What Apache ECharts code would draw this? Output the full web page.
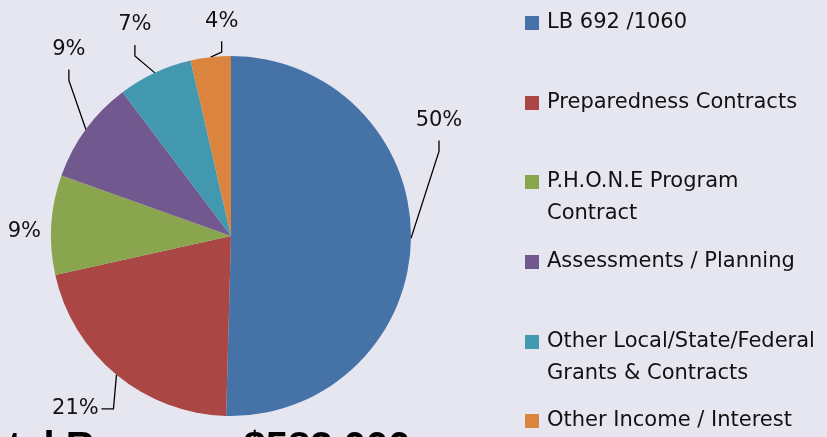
<!DOCTYPE html>
<html><head><meta charset="utf-8">
<script src="https://cdn.jsdelivr.net/npm/echarts@6/dist/echarts.min.js"></script>
<style>html,body{margin:0;padding:0;background:#e6e6f0;}#c{width:827px;height:437px;}</style>
</head><body><div id="c"></div>
<script>
const CATEGORIES = ['LB 692 /1060', 'Preparedness Contracts', 'P.H.O.N.E Program Contract', 'Assessments / Planning', 'Other Local/State/Federal Grants & Contracts', 'Other Income / Interest'];
const LEGEND_LABELS = ['LB 692 /1060', 'Preparedness Contracts', 'P.H.O.N.E Program\nContract', 'Assessments / Planning', 'Other Local/State/Federal\nGrants & Contracts', 'Other Income / Interest'];
const VALUES = [294000, 123000, 52000, 54000, 39000, 21000];
const TITLE_TEXT = 'Total Revenue $583,000';

const COLORS = ['#4572a7', '#aa4643', '#89a54e', '#71588f', '#4198af', '#db843d'];
// label centre offset from the slice's edge anchor, and leader style
const LABEL_OFFSETS = [[28, -118, 'below'], [-41, 34, 'side'], [-27, 7, 'none'], [-17, -80, 'below'], [-20, -48, 'below'], [11, -36, 'below']];
const LEGEND_TOPS = [7, 87, 134, 246, 294, 405];

const chart = echarts.init(document.getElementById('c'), null, {renderer: 'canvas'});
chart.setOption({
  backgroundColor: '#e6e6f0',
  animation: false,
  color: COLORS,
  title: {
    text: TITLE_TEXT, left: -38, top: 429, padding: 0,
    textStyle: {fontFamily: 'Liberation Sans', fontWeight: 'bold', fontSize: 40, color: '#000'}
  },
  legend: CATEGORIES.map((name, i) => {
    const multi = LEGEND_LABELS[i].indexOf('\n') >= 0;
    return {
      data: [name], orient: 'vertical', left: 525, top: LEGEND_TOPS[i], padding: 0, itemGap: 0,
      itemWidth: 14, itemHeight: 14, icon: 'rect', selectedMode: false,
      // multi-line entries get a blank leading line so the marker sits on the first text line
      formatter: () => (multi ? ' \n' : '') + LEGEND_LABELS[i],
      itemStyle: {borderWidth: 0},
      textStyle: {fontFamily: 'DejaVu Sans', fontSize: 21, color: '#111', lineHeight: 32, padding: [0, 0, 0, 3]}
    };
  }),
  series: [{
    type: 'pie', center: [231, 236], radius: 180, startAngle: 90, clockwise: true,
    avoidLabelOverlap: false,
    data: CATEGORIES.map((n, i) => ({name: n, value: VALUES[i]})),
    itemStyle: {borderWidth: 0},
    emphasis: {disabled: true},
    label: {
      show: true, position: 'outside',
      formatter: p => Math.round(p.percent) + '%',
      fontFamily: 'DejaVu Sans', fontSize: 21, color: '#111'
    },
    labelLine: {show: true, length: 10, length2: 10, lineStyle: {color: '#000', width: 1.3}},
    labelLayout: function (p) {
      if (!p.labelLinePoints) return {};
      const a = p.labelLinePoints[0];
      const off = LABEL_OFFSETS[p.dataIndex];
      const x = a[0] + off[0], y = a[1] + off[1];
      let pts;
      if (off[2] === 'below') pts = [a.slice(), [x, y + 31], [x, y + 20]];
      else if (off[2] === 'side') pts = [a.slice(), [a[0] - 3, y], [x + 26, y]];
      else pts = [a.slice(), a.slice(), a.slice()];
      return {x: x, y: y, align: 'center', verticalAlign: 'middle', labelLinePoints: pts};
    }
  }]
});
</script>
</body></html>
